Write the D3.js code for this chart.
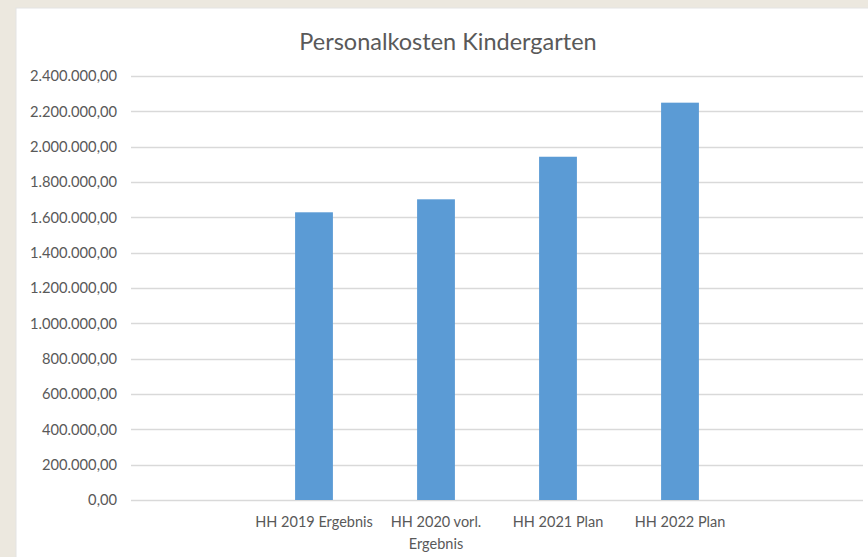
<!doctype html>
<html>
<head>
<meta charset="utf-8">
<title>Personalkosten Kindergarten</title>
<style>
  body { margin: 0; background: #ece8df; }
  svg { display: block; }
  text { font-family: Lato, "Open Sans", sans-serif; fill: #595959; }
  .grid line { stroke: #d9d9d9; stroke-width: 1.3px; }
</style>
<script src="https://cdn.jsdelivr.net/npm/d3@7/dist/d3.min.js"></script>
</head>
<body>
<svg width="868" height="557"></svg>
<script>
// first and last category are empty in the original chart
var categories = ['leer1', 'HH 2019 Ergebnis', 'HH 2020 vorl. Ergebnis', 'HH 2021 Plan', 'HH 2022 Plan', 'leer2'];
var labels = [[], ['HH 2019 Ergebnis'], ['HH 2020 vorl.', 'Ergebnis'], ['HH 2021 Plan'], ['HH 2022 Plan'], []];
var values = [null, 1628500, 1702000, 1943000, 2249000, null];
var yTicks = [0, 200000, 400000, 600000, 800000, 1000000, 1200000, 1400000, 1600000, 1800000, 2000000, 2200000, 2400000];

var svg = d3.select('svg');

svg.append('rect')
  .attr('x', 16).attr('y', 8)
  .attr('width', 868).attr('height', 560)
  .attr('fill', '#fff')
  .attr('stroke', '#e3e3e3');

var plotLeft = 131, plotRight = 863, plotTop = 76, plotBottom = 500;

var x = d3.scaleBand()
  .domain(categories)
  .range([plotLeft, plotRight])
  .paddingInner(0.69)
  .paddingOuter(0.345);

var y = d3.scaleLinear()
  .domain([0, 2400000])
  .range([plotBottom, plotTop]);

var de = d3.formatLocale({ decimal: ',', thousands: '.', grouping: [3], currency: ['', ' €'] });
var fmt = de.format(',.2f');

var grid = svg.append('g').attr('class', 'grid');
grid.selectAll('line')
  .data(yTicks)
  .enter().append('line')
  .attr('x1', plotLeft).attr('x2', plotRight)
  .attr('y1', function(d){ return Math.round(y(d)) + 0.5; })
  .attr('y2', function(d){ return Math.round(y(d)) + 0.5; });

var yAxis = d3.axisLeft(y).tickValues(yTicks).tickFormat(fmt).tickSize(0).tickPadding(14);
var gy = svg.append('g').attr('transform', 'translate(' + plotLeft + ',0)').call(yAxis);
gy.select('.domain').remove();
gy.selectAll('text').style('font-size', '14.7px').style('fill', '#595959').style('font-family', 'Lato, sans-serif');

svg.selectAll('rect.bar')
  .data(categories.map(function(c, i){ return { c: c, v: values[i] }; }).filter(function(d){ return d.v != null; }))
  .enter().append('rect')
  .attr('class', 'bar')
  .attr('x', function(d){ return x(d.c); })
  .attr('width', x.bandwidth())
  .attr('y', function(d){ return y(d.v); })
  .attr('height', function(d){ return plotBottom - y(d.v); })
  .attr('fill', '#5b9bd5');

categories.forEach(function(c, i){
  var t = svg.append('text')
    .attr('x', x(c) + x.bandwidth() / 2)
    .attr('y', 527)
    .attr('text-anchor', 'middle')
    .style('font-size', '14.5px');
  labels[i].forEach(function(line, j){
    t.append('tspan').attr('x', x(c) + x.bandwidth() / 2).attr('dy', j ? 22 : 0).text(line);
  });
});

svg.append('text')
  .attr('x', 448)
  .attr('y', 50)
  .attr('text-anchor', 'middle')
  .style('font-size', '23.5px')
  .text('Personalkosten Kindergarten');
</script>
</body>
</html>
